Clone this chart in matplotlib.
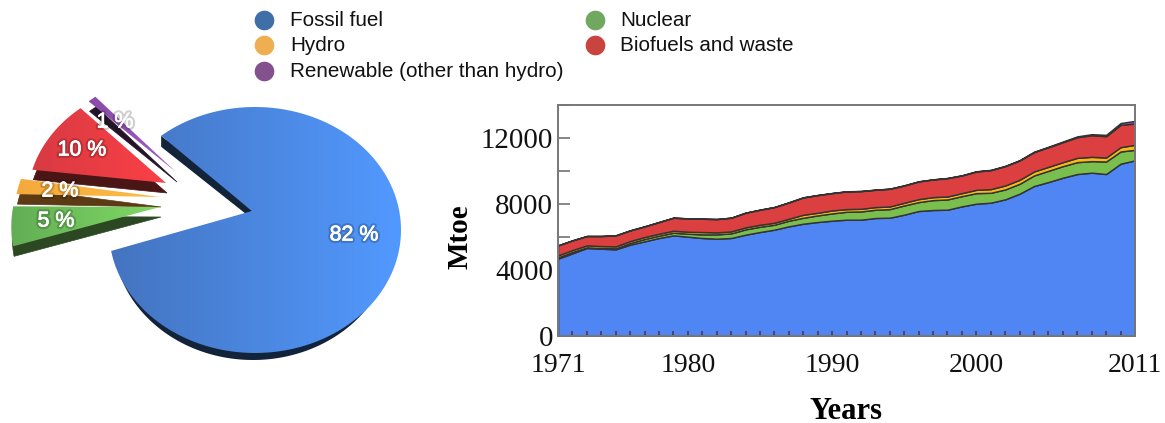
import numpy as np
import matplotlib
matplotlib.use("Agg")
import matplotlib.pyplot as plt
import matplotlib.patheffects as pe
from matplotlib.patches import Polygon
from matplotlib.colors import LinearSegmentedColormap
from matplotlib.ticker import MultipleLocator

# ---- data ----
pie_labels = ["Renewable (other than hydro)", "Biofuels and waste", "Hydro", "Nuclear", "Fossil fuel"]
pie_values = [1, 10, 2, 5, 82]
years = list(range(1971, 2012))
fossil = [4686, 5010, 5333, 5292, 5252, 5535, 5737, 5939, 6100, 6020, 5939, 5898, 5939, 6141,
          6302, 6444, 6646, 6807, 6908, 6989, 7050, 7050, 7151, 7171, 7353, 7575, 7636, 7656,
          7858, 8019, 8080, 8282, 8625, 9090, 9332, 9595, 9817, 9898, 9817, 10443, 10645]
nuclear = [80, 80, 40, 40, 60, 100, 140, 140, 160, 180, 220, 260, 280, 320, 320, 300, 340, 360,
           400, 440, 480, 500, 500, 520, 560, 540, 600, 620, 620, 640, 600, 600, 600, 640, 680,
           700, 720, 700, 760, 740, 640]
hydro = [120, 120, 120, 120, 120, 120, 120, 120, 120, 120, 140, 120, 120, 120, 120, 120, 120, 180,
         160, 180, 160, 160, 160, 160, 160, 180, 180, 180, 180, 200, 220, 240, 240, 240, 240,
         240, 260, 260, 240, 260, 300]
biofuels = [606, 586, 566, 606, 667, 646, 646, 707, 788, 808, 808, 808, 828, 889, 909, 949, 990,
            1050, 1071, 1050, 1071, 1071, 1050, 1071, 1050, 1071, 1071, 1111, 1071, 1111, 1151,
            1172, 1172, 1172, 1192, 1212, 1252, 1313, 1293, 1353, 1293]
renewable = [5, 5, 5, 5, 5, 5, 5, 5, 5, 5, 5, 5, 5, 10, 10, 10, 10, 10, 10, 10, 10, 10, 10, 10,
             10, 10, 10, 15, 15, 15, 20, 20, 25, 30, 30, 40, 50, 60, 80, 110, 160]
legend_names = ["Fossil fuel", "Hydro", "Renewable (other than hydro)", "Nuclear", "Biofuels and waste"]
year_ticks = [1971, 1980, 1990, 2000, 2011]
y_major = [0, 4000, 8000, 12000]

# ---- style ----
SANS = "Liberation Sans"
SERIF = "Liberation Serif"
W, H = 1165, 423
fig = plt.figure(figsize=(W / 100, H / 100), dpi=100)
bg = fig.add_axes([0, 0, 1, 1])
bg.set_xlim(0, W)
bg.set_ylim(H, 0)
bg.axis("off")

# legend
legend_xy = [(264, 20), (264, 45), (264, 71), (595, 20), (595, 45)]
legend_text_x = [290, 290, 290, 620, 620]
legend_cols = ["#3f6fa6", "#efae4f", "#84518f", "#6fa85e", "#c9443f"]
for name, (x, y), tx, c in zip(legend_names, legend_xy, legend_text_x, legend_cols):
    bg.scatter([x], [y], s=200, color=c, linewidths=0, zorder=3)
    bg.text(tx, y + 6, name, family=SANS, fontsize=14.9, color="#111111", va="baseline", ha="left")

# pie (hand-made perspective wedge)
cx, cy, rx, ry = 255, 230, 146, 123
apex0 = np.array([252, 211])
t0 = 125
depth = 10
blue_pad = 5
offsets = [(-76, -39), (-86, -28), (-92, -14), (-92, -4), (0, 0)]
nudges = [2, 0, -2, -1, 0]
radial = [0.95, 0.97, 1.02, 1.04, 1.0]
grads = [("#8a4aa8", "#a060c8"), ("#d83a42", "#fb4046"), ("#f4a93c", "#ffbb45"),
         ("#63ad55", "#80da64"), ("#4474c0", "#5299ff")]
sides = ["#241428", "#4a1515", "#5c3a14", "#2c4822", "#12233a"]
pct_text = ["1 %", "10 %", "2 %", "5 %", "82 %"]
pct_pos = [(115, 122), (82, 150), (60, 191), (56, 221), (354, 235)]


def wedge_pts(a, b, off, scale):
    t = np.radians(np.linspace(a, b, 200))
    arc = np.column_stack([cx + rx * np.cos(t), cy - ry * np.sin(t)])
    arc = apex0 + (arc - apex0) * scale
    return np.vstack([apex0, arc]) + np.array(off)


angle = t0
for i, v in enumerate(pie_values):
    sweep = v * 3.6
    a, b = angle + nudges[i], angle + sweep + nudges[i]
    last = i == len(pie_values) - 1
    if last:
        b += blue_pad
    pts = wedge_pts(a, b, offsets[i], radial[i])
    if not last:
        bg.add_patch(Polygon(pts + [1, depth], closed=True, fc=sides[i], ec=sides[i], lw=0.5, zorder=1 + i * 0.1))
    else:
        t = np.radians(np.linspace(a, b, 300))
        lower = np.column_stack([cx - 2 + (rx - 6) * np.cos(t), cy + 7 + ry * np.sin(-t)])
        bg.add_patch(Polygon(np.vstack([apex0, lower]), closed=True, fc=sides[i], ec="none", zorder=1.5))
        st = pts[-1]
        bg.add_patch(Polygon([st, st + [0, 11], apex0 + [-6, 3], apex0], closed=True,
                             fc=sides[i], ec="none", zorder=1.5))
    poly = Polygon(pts, closed=True, fc="none", ec="none", transform=bg.transData)
    bg.add_patch(poly)
    cmap = LinearSegmentedColormap.from_list("g", grads[i])
    x0, x1 = pts[:, 0].min(), pts[:, 0].max()
    y0, y1 = pts[:, 1].min(), pts[:, 1].max()
    im = bg.imshow(np.linspace(0, 1, 256).reshape(1, -1), extent=[x0, x1, y1, y0], cmap=cmap,
                   aspect="auto", zorder=2 + i * 0.1, interpolation="bilinear")
    im.set_clip_path(poly)
    angle += sweep
bg.set_xlim(0, W)
bg.set_ylim(H, 0)

shadow = [pe.Stroke(linewidth=3.5, foreground="#00000030"),
          pe.Stroke(linewidth=0.5, foreground="white"), pe.Normal()]
for s, (x, y) in zip(pct_text, pct_pos):
    bg.text(x, y, s, family=SANS, fontsize=15.4, color="white", ha="center", va="center",
            zorder=5, path_effects=shadow)

# stacked area
ax = fig.add_axes([558 / W, 1 - 336 / H, 577 / W, 231 / H])
ax.patch.set_alpha(0)
stack_cols = ["#4f86f4", "#7abf4e", "#fdb913", "#db3f3f", "#8a4fc0"]
ax.stackplot(years, fossil, nuclear, hydro, biofuels, renewable, colors=stack_cols,
             edgecolor="#333333", linewidth=1.05, zorder=1)
ax.set_xlim(1971, 2011)
ax.set_ylim(0, 14000)
ax.set_axisbelow(True)
ax.xaxis.set_zorder(3)
ax.set_xticks(year_ticks)
ax.xaxis.set_minor_locator(MultipleLocator(1))
ax.set_yticks(y_major)
ax.yaxis.set_minor_locator(MultipleLocator(2000))
ax.tick_params(axis="x", which="both", direction="in", length=3.8, width=1.2, color="#4a3a5a",
               pad=12, labelsize=20, labelfontfamily=SERIF, labelcolor="#111111")
ax.tick_params(axis="y", which="both", direction="in", length=8.6, width=1.1, color="#666666",
               pad=3.5, labelsize=20.8, labelfontfamily=SERIF, labelcolor="#111111")
for sp in ax.spines.values():
    sp.set_color("#777777")
    sp.set_linewidth(1.4)
    sp.set_zorder(4)
ax.set_xlabel("Years", family=SERIF, fontweight="bold", fontsize=22, labelpad=14)
ax.set_ylabel("Mtoe", family=SERIF, fontweight="bold", fontsize=21)
ax.yaxis.set_label_coords(-0.147, 0.43)
fig.savefig("out.png", dpi=100)
